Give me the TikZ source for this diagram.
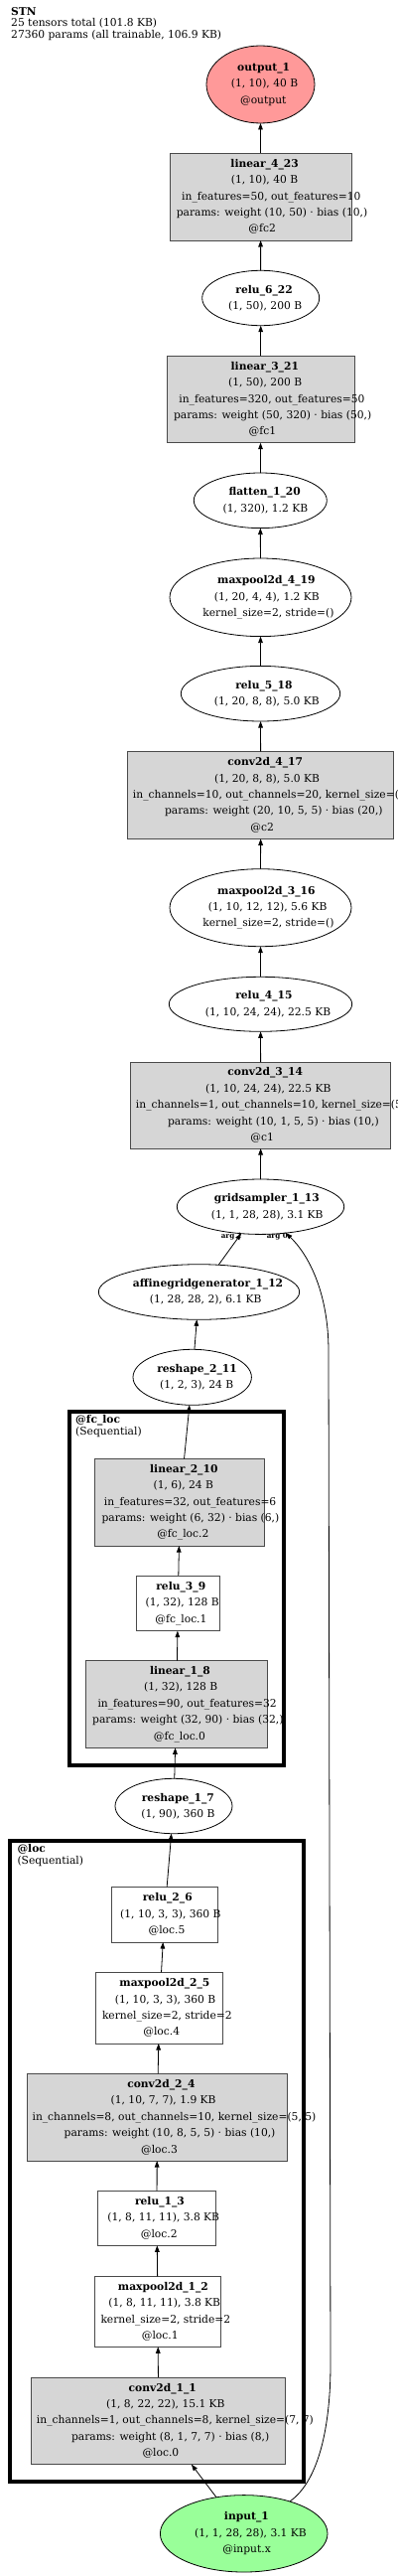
\documentclass[tikz,border=0pt]{standalone}
\usepackage{fontspec}
\setmainfont{DejaVu Serif}
\usetikzlibrary{shapes.geometric,arrows.meta}
\definecolor{gfill}{HTML}{D6D6D6}
\definecolor{boxc}{HTML}{4A4A4A}
\definecolor{pinkf}{HTML}{FF9999}
\definecolor{greenf}{HTML}{99FF99}
\newcommand\nfont{\fontsize{10.7pt}{16.4pt}\selectfont}
\newcommand\gvl[1]{\setbox0=\hbox{#1}\hbox{\kern0.12\wd0\box0}}
\begin{document}
\begin{tikzpicture}[x=1pt,y=-1pt,
  ell/.style={ellipse, draw=black, line width=0.8pt, inner sep=0pt, outer sep=0pt},
  gbox/.style={rectangle, draw=boxc, line width=0.9pt, fill=gfill, inner sep=0pt, outer sep=0pt},
  wbox/.style={rectangle, draw=boxc, line width=0.9pt, fill=white, inner sep=0pt, outer sep=0pt},
  txt/.style={font=\nfont, align=center, inner sep=0pt, outer sep=0pt},
  hdr/.style={font=\nfont, anchor=base west, inner sep=0pt},
  elab/.style={font=\fontsize{7.2pt}{8pt}\selectfont\bfseries, inner sep=0pt},
  cluster/.style={rectangle, draw=black, line width=4pt, inner sep=0pt},
  arr/.style={-{Triangle[length=6.5pt,width=4.6pt]}, line width=0.8pt}]
\useasboundingbox (0,0) rectangle (400,2593);

% header
\node[hdr] (h1) at (11,15.5) {\textbf{STN}};
\node[hdr] (h2) at (11,27) {25 tensors total (101.8 KB)};
\node[hdr] (h3) at (11,38.5) {27360 params (all trainable, 106.9 KB)};

% clusters
\node[cluster, minimum width=216.5pt, minimum height=355.5pt] (fcloc) at (177.75,1598.75) {};
\node[hdr] (fclocA) at (76,1432) {\textbf{@fc\_loc}};
\node[hdr] (fclocB) at (76,1444.5) {(Sequential)};
\node[cluster, minimum width=296pt, minimum height=644.5pt] (loc) at (158,2175.25) {};
\node[hdr] (locA) at (17.3,1864) {\textbf{@loc}};
\node[hdr] (locB) at (17.3,1876) {(Sequential)};

% nodes
\node[ell, fill=pinkf, minimum width=109pt, minimum height=78pt,
  label={[txt]center:{\gvl{\textbf{output\_1}}\\\gvl{(1, 10), 40 B}\\\gvl{@output}}}] (out) at (262.5,85) {};
\node[gbox, minimum width=183pt, minimum height=88pt,
  label={[txt]center:{\gvl{\textbf{linear\_4\_23}}\\\gvl{(1, 10), 40 B}\\\gvl{in\_features=50, out\_features=10}\\\gvl{params: weight (10, 50) · bias (10,)}\\\gvl{@fc2}}}] (l423) at (262.5,198) {};
\node[ell, minimum width=118pt, minimum height=55.4pt,
  label={[txt]center:{\gvl{\textbf{relu\_6\_22}}\\\gvl{(1, 50), 200 B}}}] (r622) at (262.7,300) {};
\node[gbox, minimum width=188.7pt, minimum height=87.4pt,
  label={[txt]center:{\gvl{\textbf{linear\_3\_21}}\\\gvl{(1, 50), 200 B}\\\gvl{in\_features=320, out\_features=50}\\\gvl{params: weight (50, 320) · bias (50,)}\\\gvl{@fc1}}}] (l321) at (262.7,402) {};
\node[ell, minimum width=134pt, minimum height=55.6pt,
  label={[txt]center:{\gvl{\textbf{flatten\_1\_20}}\\\gvl{(1, 320), 1.2 KB}}}] (f120) at (262.3,503.8) {};
\node[ell, minimum width=183pt, minimum height=78.6pt,
  label={[txt]center:{\gvl{\textbf{maxpool2d\_4\_19}}\\\gvl{(1, 20, 4, 4), 1.2 KB}\\\gvl{kernel\_size=2, stride=()}}}] (m419) at (262.5,601.3) {};
\node[ell, minimum width=160.4pt, minimum height=55.6pt,
  label={[txt]center:{\gvl{\textbf{relu\_5\_18}}\\\gvl{(1, 20, 8, 8), 5.0 KB}}}] (r518) at (262.5,698.2) {};
\node[gbox, minimum width=268pt, minimum height=88pt,
  label={[txt]center:{\gvl{\textbf{conv2d\_4\_17}}\\\gvl{(1, 20, 8, 8), 5.0 KB}\\\gvl{in\_channels=10, out\_channels=20, kernel\_size=(5, 5)}\\\gvl{params: weight (20, 10, 5, 5) · bias (20,)}\\\gvl{@c2}}}] (c417) at (262.7,800.3) {};
\node[ell, minimum width=183pt, minimum height=78pt,
  label={[txt]center:{\gvl{\textbf{maxpool2d\_3\_16}}\\\gvl{(1, 10, 12, 12), 5.6 KB}\\\gvl{kernel\_size=2, stride=()}}}] (m316) at (262.5,913.7) {};
\node[ell, minimum width=184.4pt, minimum height=55pt,
  label={[txt]center:{\gvl{\textbf{relu\_4\_15}}\\\gvl{(1, 10, 24, 24), 22.5 KB}}}] (r415) at (262.5,1010.8) {};
\node[gbox, minimum width=262pt, minimum height=87pt,
  label={[txt]center:{\gvl{\textbf{conv2d\_3\_14}}\\\gvl{(1, 10, 24, 24), 22.5 KB}\\\gvl{in\_channels=1, out\_channels=10, kernel\_size=(5, 5)}\\\gvl{params: weight (10, 1, 5, 5) · bias (10,)}\\\gvl{@c1}}}] (c314) at (262.7,1112.5) {};
\node[ell, minimum width=168.4pt, minimum height=55.4pt,
  label={[txt]center:{\gvl{\textbf{gridsampler\_1\_13}}\\\gvl{(1, 1, 28, 28), 3.1 KB}}}] (g113) at (262.5,1214.7) {};
\node[ell, minimum width=202.4pt, minimum height=55.6pt,
  label={[txt]center:{\gvl{\textbf{affinegridgenerator\_1\_12}}\\\gvl{(1, 28, 28, 2), 6.1 KB}}}] (a112) at (200.5,1300.5) {};
\node[ell, minimum width=119.4pt, minimum height=56pt,
  label={[txt]center:{\gvl{\textbf{reshape\_2\_11}}\\\gvl{(1, 2, 3), 24 B}}}] (r211) at (193.7,1386.3) {};
\node[gbox, minimum width=171pt, minimum height=87.7pt,
  label={[txt]center:{\gvl{\textbf{linear\_2\_10}}\\\gvl{(1, 6), 24 B}\\\gvl{in\_features=32, out\_features=6}\\\gvl{params: weight (6, 32) · bias (6,)}\\\gvl{@fc\_loc.2}}}] (l210) at (181.2,1512.2) {};
\node[wbox, minimum width=83.3pt, minimum height=55.7pt,
  label={[txt]center:{\gvl{\textbf{relu\_3\_9}}\\\gvl{(1, 32), 128 B}\\\gvl{@fc\_loc.1}}}] (r39) at (179.3,1613.8) {};
\node[gbox, minimum width=183pt, minimum height=87.6pt,
  label={[txt]center:{\gvl{\textbf{linear\_1\_8}}\\\gvl{(1, 32), 128 B}\\\gvl{in\_features=90, out\_features=32}\\\gvl{params: weight (32, 90) · bias (32,)}\\\gvl{@fc\_loc.0}}}] (l18) at (177.8,1715.5) {};
\node[ell, minimum width=118pt, minimum height=55.4pt,
  label={[txt]center:{\gvl{\textbf{reshape\_1\_7}}\\\gvl{(1, 90), 360 B}}}] (r17) at (175,1818) {};
\node[wbox, minimum width=107pt, minimum height=55.7pt,
  label={[txt]center:{\gvl{\textbf{relu\_2\_6}}\\\gvl{(1, 10, 3, 3), 360 B}\\\gvl{@loc.5}}}] (r26) at (165.8,1927.2) {};
\node[wbox, minimum width=127.6pt, minimum height=71.7pt,
  label={[txt]center:{\gvl{\textbf{maxpool2d\_2\_5}}\\\gvl{(1, 10, 3, 3), 360 B}\\\gvl{kernel\_size=2, stride=2}\\\gvl{@loc.4}}}] (m25) at (160.5,2021.2) {};
\node[gbox, minimum width=262pt, minimum height=87.7pt,
  label={[txt]center:{\gvl{\textbf{conv2d\_2\_4}}\\\gvl{(1, 10, 7, 7), 1.9 KB}\\\gvl{in\_channels=8, out\_channels=10, kernel\_size=(5, 5)}\\\gvl{params: weight (10, 8, 5, 5) · bias (10,)}\\\gvl{@loc.3}}}] (c24) at (158.3,2131.2) {};
\node[wbox, minimum width=119.4pt, minimum height=55pt,
  label={[txt]center:{\gvl{\textbf{relu\_1\_3}}\\\gvl{(1, 8, 11, 11), 3.8 KB}\\\gvl{@loc.2}}}] (r13) at (158,2232.8) {};
\node[wbox, minimum width=127.4pt, minimum height=71pt,
  label={[txt]center:{\gvl{\textbf{maxpool2d\_1\_2}}\\\gvl{(1, 8, 11, 11), 3.8 KB}\\\gvl{kernel\_size=2, stride=2}\\\gvl{@loc.1}}}] (m12) at (159,2326.8) {};
\node[gbox, minimum width=256pt, minimum height=87.7pt,
  label={[txt]center:{\gvl{\textbf{conv2d\_1\_1}}\\\gvl{(1, 8, 22, 22), 15.1 KB}\\\gvl{in\_channels=1, out\_channels=8, kernel\_size=(7, 7)}\\\gvl{params: weight (8, 1, 7, 7) · bias (8,)}\\\gvl{@loc.0}}}] (c11) at (159.7,2436.8) {};
\node[ell, fill=greenf, minimum width=168.6pt, minimum height=77.4pt,
  label={[txt]center:{\gvl{\textbf{input\_1}}\\\gvl{(1, 1, 28, 28), 3.1 KB}\\\gvl{@input.x}}}] (in1) at (245.7,2550.3) {};

% edges
\draw[arr] (l423) -- (out);
\draw[arr] (r622) -- (l423);
\draw[arr] (l321) -- (r622);
\draw[arr] (f120) -- (l321);
\draw[arr] (m419) -- (f120);
\draw[arr] (r518) -- (m419);
\draw[arr] (c417) -- (r518);
\draw[arr] (m316) -- (c417);
\draw[arr] (r415) -- (m316);
\draw[arr] (c314) -- (r415);
\draw[arr] (g113) -- (c314);
\draw[arr] (a112) -- (g113);
\draw[arr] (in1.35) .. controls (322,2497) and (333,2440) .. (333,2380)
  -- (331,1360) .. controls (331,1300) and (310,1262) .. (g113.-46);
\draw[arr] (r211) -- (a112);
\draw[arr] (l210) -- (r211);
\draw[arr] (r39) -- (l210);
\draw[arr] (l18) -- (r39);
\draw[arr] (r17) -- (l18);
\draw[arr] (r26) -- (r17);
\draw[arr] (m25) -- (r26);
\draw[arr] (c24) -- (m25);
\draw[arr] (r13) -- (c24);
\draw[arr] (m12) -- (r13);
\draw[arr] (c11) -- (m12);
\draw[arr] (in1) -- (c11);

\node[elab] (arg1) at (233.3,1245) {arg 1};
\node[elab] (arg0) at (279.3,1245) {arg 0};
\end{tikzpicture}
\end{document}
